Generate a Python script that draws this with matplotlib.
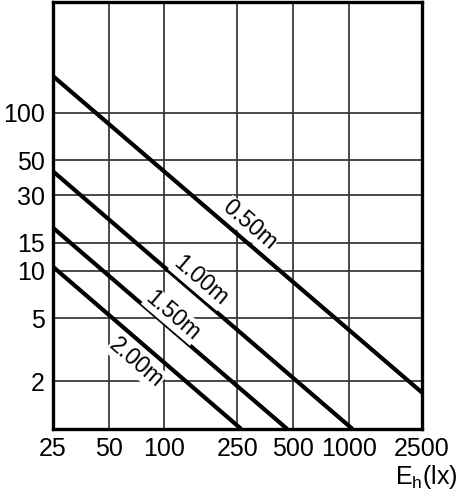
import matplotlib
matplotlib.use('Agg')
import matplotlib.pyplot as plt
from matplotlib.ticker import FixedLocator, NullLocator, FixedFormatter

plt.rcParams['font.family'] = ['Liberation Sans', 'DejaVu Sans']

# data
x_ticks = [25, 50, 100, 250, 500, 1000, 2500]
y_ticks = [2, 5, 10, 15, 30, 50, 100]

names = ['0.50m', '1.00m', '1.50m', '2.00m']
x_050 = [25, 2500]
y_050 = [170, 1.7]
x_100 = [25, 1050]
y_100 = [42.5, 1.0]
x_150 = [25, 465]
y_150 = [18.7, 1.0]
x_200 = [25, 262]
y_200 = [10.6, 1.0]

# label anchor points (data coords)
label_x = [290, 157, 112, 70.5]
label_y = [19.5, 8.6, 5.2, 2.63]

fig = plt.figure(figsize=(4.65, 5.0), dpi=100)
ax = fig.add_axes([0.114, 0.142, 0.7935, 0.854])
ax.set_xscale('log')
ax.set_yscale('log')
ax.set_xlim(25, 2500)
ax.set_ylim(1, 500)

for xs, ys in [(x_050, y_050), (x_100, y_100), (x_150, y_150), (x_200, y_200)]:
    ax.plot(xs, ys, color='black', lw=3.0, solid_capstyle='butt', zorder=3)

for name, lx, ly in zip(names, label_x, label_y):
    ax.text(lx, ly, name, rotation=-40.5, rotation_mode='anchor',
            ha='center', va='center', fontsize=16.5, zorder=4,
            bbox=dict(facecolor='white', edgecolor='none', pad=0.3))

ax.xaxis.set_major_locator(FixedLocator(x_ticks))
ax.xaxis.set_major_formatter(FixedFormatter([str(v) for v in x_ticks]))
ax.xaxis.set_minor_locator(NullLocator())
ax.yaxis.set_major_locator(FixedLocator(y_ticks))
ax.yaxis.set_major_formatter(FixedFormatter([str(v) for v in y_ticks]))
ax.yaxis.set_minor_locator(NullLocator())

ax.tick_params(length=0, labelsize=18, pad=6)
ax.grid(True, color='#3a3a3a', lw=1.3, zorder=1)
for s in ax.spines.values():
    s.set_linewidth(2.4)
    s.set_color('black')

fig.text(0.985, 0.018, r'$\mathregular{E_h}$(lx)', ha='right', va='bottom', fontsize=18)

fig.savefig('out.png', dpi=100)
